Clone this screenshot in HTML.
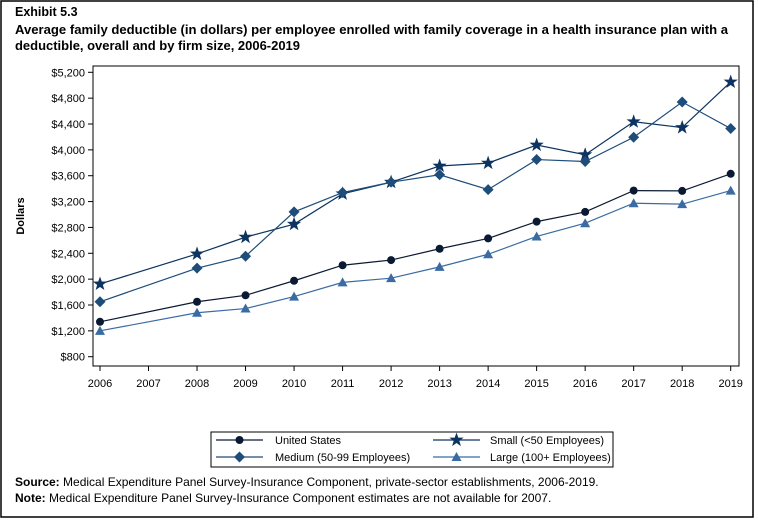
<!DOCTYPE html>
<html><head><meta charset="utf-8"><style>
body{margin:0;background:#fff;}
svg text{font-family:"Liberation Sans",sans-serif;}
</style></head><body>
<svg id="chart" width="758" height="518" xmlns="http://www.w3.org/2000/svg">
<rect x="1" y="1" width="752" height="516" fill="#fff" stroke="#000" stroke-width="1.5"/>
<text x="15" y="16" font-size="12.5" font-weight="bold">Exhibit 5.3</text>
<text x="15" y="34" font-size="12.5" font-weight="bold" textLength="713" lengthAdjust="spacingAndGlyphs">Average family deductible (in dollars) per employee enrolled with family coverage in a health insurance plan with a</text>
<text x="15" y="50" font-size="12.5" font-weight="bold" textLength="285" lengthAdjust="spacingAndGlyphs">deductible, overall and by firm size, 2006-2019</text>
<rect x="93" y="66" width="646" height="300" fill="none" stroke="#000" stroke-width="1"/>
<text transform="translate(24,216) rotate(-90)" text-anchor="middle" font-size="11" font-weight="bold">Dollars</text>
<g id="yaxis"></g><g id="xaxis"></g><g id="series"></g>
<rect x="211" y="432" width="402" height="35" fill="none" stroke="#000" stroke-width="1"/>
<g id="legend"></g>
<text x="15" y="486" font-size="12"><tspan font-weight="bold">Source:</tspan> Medical Expenditure Panel Survey-Insurance Component, private-sector establishments, 2006-2019.</text>
<text x="15" y="502" font-size="12"><tspan font-weight="bold">Note:</tspan> Medical Expenditure Panel Survey-Insurance Component estimates are not available for 2007.</text>
</svg>
<script>
const years=[2006,2007,2008,2009,2010,2011,2012,2013,2014,2015,2016,2017,2018,2019];
const dataYears=[2006,2008,2009,2010,2011,2012,2013,2014,2015,2016,2017,2018,2019];
const usValues=[1340,1650,1750,1975,2215,2295,2470,2630,2890,3040,3370,3365,3630];
const smallValues=[1925,2390,2650,2850,3320,3500,3750,3795,4075,3925,4435,4345,5050];
const mediumValues=[1650,2170,2355,3040,3340,3500,3615,3385,3850,3820,4195,4740,4330];
const largeValues=[1200,1480,1545,1730,1950,2015,2190,2385,2660,2865,3175,3160,3370];
const yTicks=[800,1200,1600,2000,2400,2800,3200,3600,4000,4400,4800,5200];
const NS="http://www.w3.org/2000/svg";
function X(yr){return 100+(yr-2006)*(730.7-100)/13;}
function Y(v){return 356.7-(v-800)*(356.7-72.3)/4400;}
function mk(tag,attrs,parent){const e=document.createElementNS(NS,tag);for(const k in attrs)e.setAttribute(k,attrs[k]);parent.appendChild(e);return e;}
const ya=document.getElementById('yaxis'),xa=document.getElementById('xaxis'),sg=document.getElementById('series'),lg=document.getElementById('legend');
yTicks.forEach(v=>{
  const y=Y(v);
  const t=mk('line',{x1:88,x2:93,y1:y,y2:y,stroke:'#000'},ya);
  
  
  const l=mk('text',{x:85,y:y+4,'text-anchor':'end','font-size':'11'},ya);
  l.textContent='$'+v.toLocaleString('en-US');
  
  
});
years.forEach(yr=>{
  const x=X(yr);
  const t=mk('line',{x1:x,x2:x,y1:366,y2:371,stroke:'#000'},xa);
  
  
  const l=mk('text',{x:x,y:387,'text-anchor':'middle','font-size':'11'},xa);
  l.textContent=String(yr);
  
  
});
function marker(shape,x,y,c,g){
  let e;
  if(shape==='circle')e=mk('circle',{cx:x,cy:y,r:4,fill:c},g);
  else if(shape==='diamond')e=mk('polygon',{points:`${x},${y-5.5} ${x+5.5},${y} ${x},${y+5.5} ${x-5.5},${y}`,fill:c},g);
  else if(shape==='triangle')e=mk('polygon',{points:`${x},${y-5} ${x+5},${y+4} ${x-5},${y+4}`,fill:c},g);
  else{let p=[];for(let i=0;i<10;i++){const r=i%2?3:7.5,a=-Math.PI/2+i*Math.PI/5;p.push((x+r*Math.cos(a)).toFixed(2)+','+(y+r*Math.sin(a)).toFixed(2));}e=mk('polygon',{points:p.join(' '),fill:c},g);}
  return e;
}
const series=[
 {name:'united-states',label:'United States',vals:usValues,color:'#0b1a33',shape:'circle',lx:216,ly:440,tx:275},
 {name:'small-firms',label:'Small (<50 Employees)',vals:smallValues,color:'#0d3460',shape:'star',lx:433,ly:440,tx:490},
 {name:'medium-firms',label:'Medium (50-99 Employees)',vals:mediumValues,color:'#1e4d7a',shape:'diamond',lx:216,ly:457,tx:275},
 {name:'large-firms',label:'Large (100+ Employees)',vals:largeValues,color:'#3a6ba3',shape:'triangle',lx:433,ly:457,tx:490}
];
series.forEach(s=>{
  const g=mk('g',{},sg);
  
  
  const pts=dataYears.map((yr,i)=>X(yr)+','+Y(s.vals[i])).join(' ');
  const pl=mk('polyline',{points:pts,fill:'none',stroke:s.color,'stroke-width':1.2},g);
  
  
  dataYears.forEach((yr,i)=>{
    const m=marker(s.shape,X(yr),Y(s.vals[i]),s.color,g);
    
    
  });
  const le=mk('g',{},lg);
  
  
  const w=47;
  mk('line',{x1:s.lx,x2:s.lx+w,y1:s.ly,y2:s.ly,stroke:s.color,'stroke-width':1.2},le);
  marker(s.shape,s.lx+w/2,s.ly,s.color,le);
  const t=mk('text',{x:s.tx,y:s.ly+4,'font-size':'11'},le);
  t.textContent=s.label;
});
</script>
</body></html>
